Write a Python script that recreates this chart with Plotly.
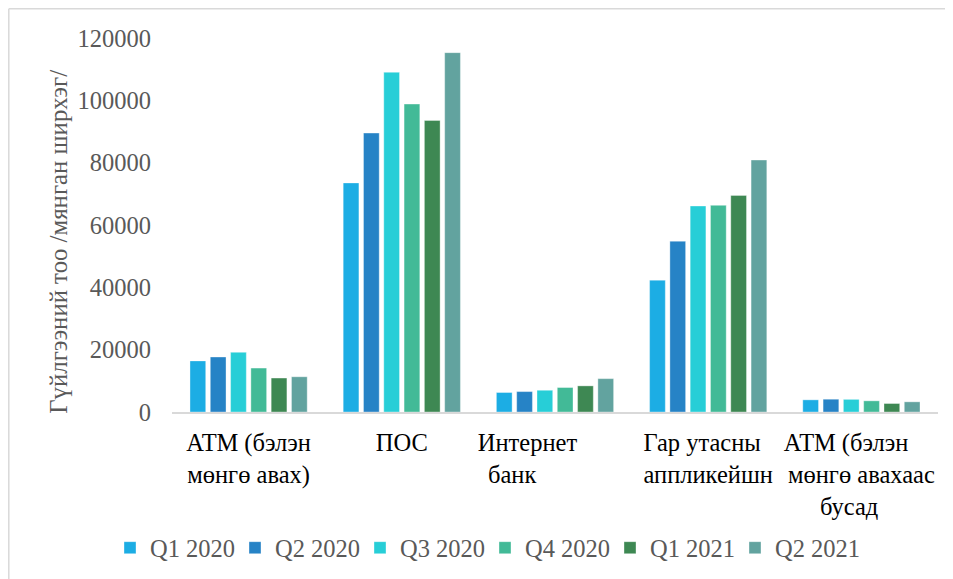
import plotly.graph_objects as go

NB = "\u00A0"
categories = ["АТМ (бэлэн<br>мөнгө авах)", "ПОС", "Интернет" + NB * 9 + "<br>банк" + NB * 14,
              "Гар утасны" + NB * 2 + "<br>аппликейшн",
              "АТМ (бэлэн" + NB * 5 + "<br>мөнгө авахаас<br>бусад" + NB * 4]
series_names = ["Q1 2020", "Q2 2020", "Q3 2020", "Q4 2020", "Q1 2021", "Q2 2021"]
q1_2020 = [16400, 73500, 6250, 42300, 3900]
q2_2020 = [17650, 89500, 6550, 54800, 4100]
q3_2020 = [19150, 109000, 6980, 66100, 4050]
q4_2020 = [14100, 98800, 7850, 66300, 3580]
q1_2021 = [10900, 93550, 8380, 69500, 2720]
q2_2021 = [11300, 115300, 10700, 80850, 3260]
colors = ["#1CADE4", "#2683C6", "#27CED7", "#42BA97", "#3E8853", "#62A39F"]
y_ticks = [0, 20000, 40000, 60000, 80000, 100000, 120000]
y_title = "Гүйлгээний тоо /мянган ширхэг/"

series_values = [q1_2020, q2_2020, q3_2020, q4_2020, q1_2021, q2_2021]

FONT = "Liberation Serif, Times New Roman, serif"
FS = 24.5

fig = go.Figure()
for name, vals, col in zip(series_names, series_values, colors):
    fig.add_trace(go.Bar(name=name, x=categories, y=vals,
                         marker=dict(color=col, line=dict(color="rgba(255,255,255,0.6)", width=0.6))))

# page body has an 8px offset; compensate in margins
OFF = 8
W, H = 953, 579
L = 172 - OFF
T = 38 - OFF
pw = 766
ph = 374.5
R = W - L - pw
B = H - T - ph

bx = (0.8 - L) / pw
by = (ph + T - 0.8) / ph

fig.update_layout(
    width=W, height=H,
    margin=dict(l=L, r=R, t=T, b=B, autoexpand=False),
    paper_bgcolor="white", plot_bgcolor="white",
    barmode="group", bargap=0.205, bargroupgap=0.225,
    font=dict(family=FONT, size=FS, color="#595959"),
    showlegend=True,
    legend=dict(orientation="h", x=0.5 - 70 / pw, xanchor="center", y=-0.363, yanchor="middle",
                font=dict(family=FONT, size=FS, color="#595959"),
                itemwidth=30, traceorder="normal", entrywidth=80, entrywidthmode="pixels"),
    shapes=[
        dict(type="line", xref="paper", yref="paper", x0=bx, x1=bx, y0=-1, y1=by,
             line=dict(color="#D9D9D9", width=1.5)),
        dict(type="line", xref="paper", yref="paper", x0=bx, x1=1.5, y0=by, y1=by,
             line=dict(color="#D9D9D9", width=1.5)),
    ],
    annotations=[
        dict(text=y_title, xref="paper", yref="paper", x=(59 - 172) / pw, y=(412.5 - 242) / ph,
             xanchor="center", yanchor="middle", textangle=-90, showarrow=False,
             font=dict(family=FONT, size=24.8, color="#595959")),
    ],
)
fig.update_xaxes(showline=True, linecolor="#D9D9D9", linewidth=1.5, showgrid=False,
                 ticks="", tickfont=dict(family=FONT, size=FS, color="#000000"),
                 ticklabelstandoff=8)
fig.update_yaxes(range=[0, 120000], tickvals=y_ticks, tickformat="d", showgrid=False,
                 zeroline=False, showline=False, ticks="", ticklabelstandoff=20,
                 tickfont=dict(family=FONT, size=FS, color="#595959"))

fig.write_html("out.html")
